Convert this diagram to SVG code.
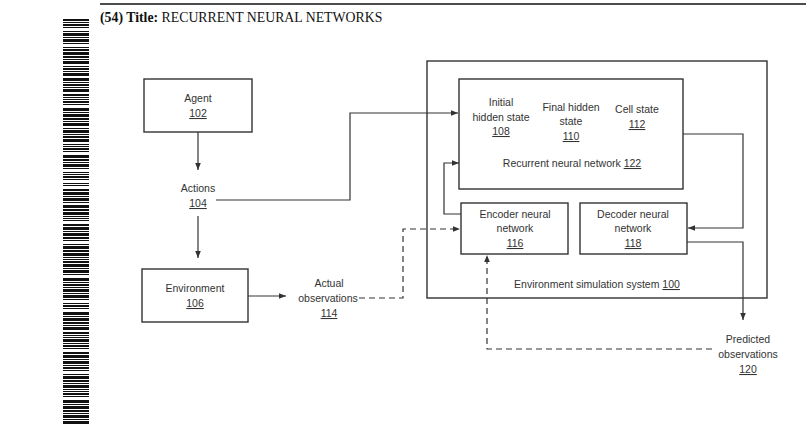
<svg xmlns="http://www.w3.org/2000/svg" width="806" height="425" viewBox="0 0 806 425">
<defs>
<style>
.t{font-family:"Liberation Sans",Arial,sans-serif;font-size:10.5px;fill:#333;text-anchor:middle}
.u{text-decoration:underline}
.box{fill:#fff;stroke:#333;stroke-width:1.4}
.ln{fill:none;stroke:#333;stroke-width:1.2}
.dash{fill:none;stroke:#333;stroke-width:1.2;stroke-dasharray:6 4}
.ttl{font-family:"Liberation Serif","Times New Roman",serif;font-size:13.8px;fill:#111}
</style>
<marker id="ah" viewBox="0 0 10 10" refX="10" refY="5" markerWidth="7" markerHeight="7" orient="auto" markerUnits="userSpaceOnUse">
<path d="M0 1L10 5L0 9z" fill="#333"/>
</marker>
</defs>
<rect width="806" height="425" fill="#fff"/>
<line x1="100" y1="4" x2="806" y2="4" stroke="#111" stroke-width="1.5"/>
<text class="ttl" x="100" y="21.5"><tspan font-weight="bold">(54) Title:</tspan> RECURRENT NEURAL NETWORKS</text>
<path fill="#111" d="M63 19h26v2H63zM63 22h26v1H63zM63 24h26v2H63zM63 27h26v1H63zM63 31h26v1H63zM63 33h26v3H63zM63 37h26v1H63zM63 39h26v3H63zM63 43h26v1H63zM63 47h26v1H63zM63 49h26v2H63zM63 52h26v3H63zM63 56h26v2H63zM63 59h26v1H63zM63 61h26v3H63zM63 66h26v1H63zM63 68h26v2H63zM63 71h26v1H63zM63 73h26v3H63zM63 78h26v3H63zM63 82h26v1H63zM63 84h26v2H63zM63 87h26v1H63zM63 89h26v3H63zM63 94h26v2H63zM63 97h26v1H63zM63 99h26v1H63zM63 101h26v2H63zM63 104h26v1H63zM63 108h26v3H63zM63 112h26v1H63zM63 114h26v3H63zM63 118h26v2H63zM63 121h26v1H63zM63 123h26v3H63zM63 128h26v1H63zM63 130h26v3H63zM63 134h26v1H63zM63 136h26v2H63zM63 139h26v3H63zM63 144h26v1H63zM63 146h26v1H63zM63 148h26v2H63zM63 151h26v1H63zM63 155h26v3H63zM63 159h26v2H63zM63 162h26v1H63zM63 164h26v3H63zM63 168h26v1H63zM63 172h26v1H63zM63 174h26v1H63zM63 176h26v2H63zM63 179h26v1H63zM63 183h26v1H63zM63 185h26v1H63zM63 189h26v2H63zM63 192h26v3H63zM63 196h26v1H63zM63 198h26v3H63zM63 202h26v1H63zM63 205h26v3H63zM63 209h26v2H63zM63 212h26v3H63zM63 216h26v1H63zM63 218h26v1H63zM63 220h26v1H63zM63 224h26v2H63zM63 227h26v3H63zM63 231h26v1H63zM63 233h26v3H63zM63 237h26v2H63zM63 240h26v1H63zM63 244h26v1H63zM63 246h26v3H63zM63 250h26v2H63zM63 253h26v3H63zM63 257h26v1H63zM63 259h26v1H63zM63 261h26v2H63zM63 264h26v3H63zM63 268h26v1H63zM63 270h26v3H63zM63 274h26v1H63zM63 278h26v3H63zM63 282h26v1H63zM63 284h26v2H63zM63 287h26v1H63zM63 289h26v3H63zM63 293h26v1H63zM63 295h26v3H63zM63 299h26v1H63zM63 303h26v1H63zM63 305h26v2H63zM63 308h26v1H63zM63 312h26v3H63zM63 316h26v1H63zM63 318h26v3H63zM63 322h26v2H63zM63 325h26v1H63zM63 327h26v3H63zM63 332h26v2H63zM63 335h26v1H63zM63 337h26v1H63zM63 339h26v3H63zM63 343h26v1H63zM63 345h26v2H63zM63 348h26v1H63zM63 352h26v2H63zM63 355h26v3H63zM63 359h26v1H63zM63 361h26v3H63zM63 365h26v1H63zM63 367h26v2H63zM63 370h26v1H63zM63 374h26v1H63zM63 376h26v3H63zM63 380h26v2H63zM63 383h26v1H63zM63 385h26v3H63zM63 389h26v1H63zM63 391h26v1H63zM63 393h26v2H63zM63 396h26v1H63zM63 400h26v3H63zM63 404h26v1H63zM63 406h26v3H63zM63 410h26v2H63zM63 413h26v1H63zM63 415h26v3H63zM63 419h26v1H63zM63 421h26v3H63z"/>

<g id="system100">
<rect class="box" x="427" y="61" width="340" height="237"/>
<text class="t" x="597" y="288">Environment simulation system <tspan class="u">100</tspan></text>
</g>

<g id="agent102">
<rect class="box" x="144" y="79" width="108" height="53"/>
<text class="t" x="198" y="102">Agent</text>
<text class="t u" x="198" y="117">102</text>
</g>

<g id="actions104">
<text class="t" x="198" y="192">Actions</text>
<text class="t u" x="198" y="207">104</text>
</g>

<g id="environment106">
<rect class="box" x="142" y="269" width="106" height="53"/>
<text class="t" x="195" y="292">Environment</text>
<text class="t u" x="195" y="307">106</text>
</g>

<g id="actual114">
<text class="t" x="329" y="287">Actual</text>
<text class="t" x="328" y="302">observations</text>
<text class="t u" x="329" y="317">114</text>
</g>

<g id="rnn122">
<rect class="box" x="459" y="79" width="224" height="110"/>
<text class="t" x="501" y="106">Initial</text>
<text class="t" x="501" y="121">hidden state</text>
<text class="t u" x="501" y="135">108</text>
<text class="t" x="571" y="111">Final hidden</text>
<text class="t" x="571" y="125">state</text>
<text class="t u" x="571" y="140">110</text>
<text class="t" x="637" y="113">Cell state</text>
<text class="t u" x="637" y="128">112</text>
<text class="t" x="572" y="167">Recurrent neural network <tspan class="u">122</tspan></text>
</g>

<g id="encoder116">
<rect class="box" x="461" y="203" width="107" height="51"/>
<text class="t" x="515" y="218">Encoder neural</text>
<text class="t" x="515" y="232">network</text>
<text class="t u" x="515" y="247">116</text>
</g>

<g id="decoder118">
<rect class="box" x="580" y="203" width="107" height="51"/>
<text class="t" x="633" y="218">Decoder neural</text>
<text class="t" x="633" y="232">network</text>
<text class="t u" x="633" y="247">118</text>
</g>

<g id="predicted120">
<text class="t" x="748" y="343">Predicted</text>
<text class="t" x="748" y="358">observations</text>
<text class="t u" x="748" y="373">120</text>
</g>

<g id="connectors">
<path class="ln" d="M198 132V170" marker-end="url(#ah)"/>
<path class="ln" d="M198 216V258" marker-end="url(#ah)"/>
<path class="ln" d="M216 200H350V113H458" marker-end="url(#ah)"/>
<path class="ln" d="M248 296H286" marker-end="url(#ah)"/>
<path class="dash" d="M359 298H403V229H460" marker-end="url(#ah)"/>
<path class="ln" d="M461 214H444V163H459" marker-end="url(#ah)"/>
<path class="ln" d="M683 134H743V228H688" marker-end="url(#ah)"/>
<path class="ln" d="M687 242H743V320" marker-end="url(#ah)"/>
<path class="dash" d="M712 349H487V255" marker-end="url(#ah)"/>
</g>
</svg>
